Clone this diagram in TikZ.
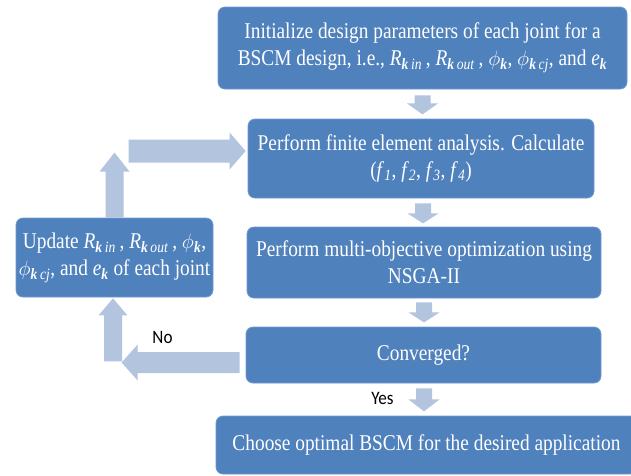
\documentclass[tikz,border=0pt]{standalone}
\usepackage{fontspec}
\setmainfont[FakeStretch=0.86]{Liberation Serif}
\newfontfamily\lblfont[FakeStretch=0.9]{Carlito}
\usetikzlibrary{calc}
\definecolor{boxblue}{HTML}{4F81BD}
\definecolor{boxedge}{HTML}{7099CE}
\definecolor{arrowblue}{HTML}{B3C4DF}
\newcommand{\kk}{\textbf{\textit{k}}}
\newcommand{\Rsub}[1]{\textit{R}\textsubscript{\kk\,\textit{#1}}}
\newcommand{\phik}{$\phi$\textsubscript{\kk}}
\newcommand{\phikcj}{$\phi$\textsubscript{\kk\,\textit{cj}}}
\newcommand{\ek}{\textit{e}\textsubscript{\kk}}
\newcommand{\fsub}[1]{\textit{f}\textsubscript{\textit{#1}}}
\tikzset{
  flowbox/.style={draw=boxedge, line width=0.8pt, fill=boxblue, rounded corners=7pt,
    text=white, font=\fontsize{22.5}{27}\selectfont, align=center, inner sep=0pt},
  yesno/.style={text=black, font=\lblfont\fontsize{19}{22}\selectfont, inner sep=0pt},
  pics/barrow/.style n args={4}{code={%
    \fill[arrowblue] (0,-#2) -- (#1-#4,-#2) -- (#1-#4,-#3) -- (#1,0) -- (#1-#4,#3)
      -- (#1-#4,#2) -- (0,#2) -- cycle;}}
}
\begin{document}
\begin{tikzpicture}[x=1pt,y=-1pt]
\clip (0,0) rectangle (631,475);
\fill[white] (0,0) rectangle (631,475);
% boxes
\node[flowbox, minimum width=409pt, minimum height=82pt] (init) at (422.5,48)
  {Initialize design parameters of each joint for a\\
   BSCM design, i.e., \Rsub{in}\,, \Rsub{out}\,, \phik, \phikcj, and \ek};
\node[flowbox, minimum width=346pt, minimum height=79pt] (fea) at (421,158.5)
  {Perform finite element analysis. Calculate\\
   (\fsub{1}, \fsub{2}, \fsub{3}, \fsub{4})};
\node[flowbox, minimum width=354pt, minimum height=71pt] (opt) at (424,262.5)
  {Perform multi-objective optimization using\\ NSGA-II};
\node[flowbox, minimum width=355pt, minimum height=56pt] (conv) at (423.5,355)
  {Converged?};
\node[flowbox, minimum width=421pt, minimum height=58pt] (choose) at (426.5,445)
  {Choose optimal BSCM for the desired application};
\node[flowbox, minimum width=197pt, minimum height=79pt] (upd) at (114.5,257.5)
  {Update \Rsub{in}\,, \Rsub{out}\,, \phik,\\
   \phikcj, and \ek{} of each joint};
% down arrows
\pic[rotate=-90] at ($(init.south)+(0,6)$) {barrow={19}{8}{15.5}{11}};
\pic[rotate=-90] at ($(fea.south)+(2,5)$) {barrow={20}{8}{15.5}{10}};
\pic[rotate=-90] at ($(opt.south)+(0,4)$) {barrow={20}{8}{15.5}{10}};
\pic[rotate=-90] at ($(conv.south)+(0.5,5)$) {barrow={23}{8}{15.5}{12}};
% feedback loop
\pic[rotate=90] at (upd.north) {barrow={65}{9}{15}{19}};
\pic at ($(fea.west)+(-119,-7.5)$) {barrow={117}{11.5}{18.5}{16}};
\pic[rotate=180] at ($(conv.west)+(-6,7.5)$) {barrow={118}{10.5}{18}{16}};
\pic[rotate=90] at ($(upd.south)+(-1.5,64)$) {barrow={63}{9}{14.5}{17}};
% labels
\node[yesno] (no) at (162.5,337) {No};
\node[yesno] (yes) at (382.5,398) {Yes};
\end{tikzpicture}
\end{document}
